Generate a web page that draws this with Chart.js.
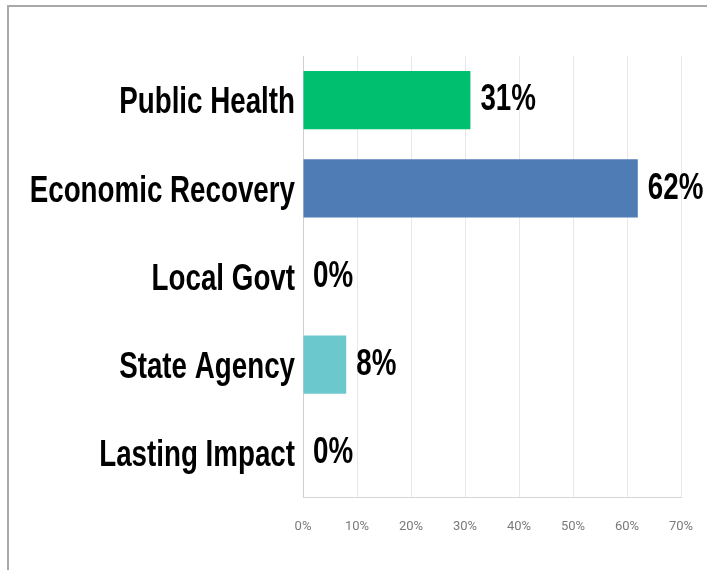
<!DOCTYPE html>
<html>
<head>
<meta charset="utf-8">
<script src="https://cdn.jsdelivr.net/npm/chart.js@4/dist/chart.umd.min.js"></script>
<style>
    html, body { margin: 0; padding: 0; background: #fff; overflow: hidden; width: 707px; height: 570px; }
    #wrap { position: absolute; left: 0; top: 0; width: 707px; height: 570px; }
    #frame {
        position: absolute; left: 7px; top: 5px; width: 698px; height: 563px;
        border-left: 2px solid #a9a9a9; border-top: 2px solid #a9a9a9;
        pointer-events: none;
    }
</style>
</head>
<body>
<div id="wrap"><canvas id="chart"></canvas></div>
<div id="frame"></div>
<script>
var categories = ['Public Health', 'Economic Recovery', 'Local Govt', 'State Agency', 'Lasting Impact'];
var shares = [31, 62, 0, 8, 0];
var barColors = ['#00bf6f', '#507cb6', '#507cb6', '#6bc8cd', '#6bc8cd'];
var xTicks = [0, 10, 20, 30, 40, 50, 60, 70];

// bold condensed look: Liberation Sans Bold squeezed sideways
var bigFont = "bold 37px 'Liberation Sans', Arial, sans-serif";
var squeeze = 0.75;

function drawSqueezed(ctx, text, x, y, align) {
    ctx.save();
    ctx.translate(x, y);
    ctx.scale(squeeze, 1);
    ctx.textAlign = align;
    ctx.fillText(text, 0, 0);
    ctx.restore();
}

var bigLabels = {
    id: 'bigLabels',
    afterDatasetsDraw: function (chart) {
        var ctx = chart.ctx;
        var meta = chart.getDatasetMeta(0);
        var yScale = chart.scales.y;
        ctx.save();
        ctx.font = bigFont;
        ctx.fillStyle = '#000';
        ctx.textBaseline = 'middle';
        categories.forEach(function (name, i) {
            drawSqueezed(ctx, name, yScale.right - 8, yScale.getPixelForTick(i) + 3, 'right');
        });
        meta.data.forEach(function (bar, i) {
            drawSqueezed(ctx, shares[i] + '%', bar.x + 10, bar.y, 'left');
        });
        ctx.restore();
    }
};

new Chart(document.getElementById('chart').getContext('2d'), {
    type: 'bar',
    data: {
        labels: categories,
        datasets: [{
            data: shares,
            backgroundColor: barColors,
            categoryPercentage: 1,
            barPercentage: 0.66
        }]
    },
    options: {
        indexAxis: 'y',
        responsive: true,
        maintainAspectRatio: false,
        animation: false,
        layout: { padding: { top: 56, right: 26, left: 0, bottom: 0 } },
        plugins: {
            legend: { display: false },
            tooltip: { enabled: false }
        },
        scales: {
            x: {
                min: 0,
                max: 70,
                afterBuildTicks: function (scale) {
                    scale.ticks = xTicks.map(function (v) { return { value: v }; });
                },
                afterFit: function (scale) {
                    scale.height = 73;
                    scale.paddingRight = 0;
                },
                grid: {
                    color: function (c) { return c.tick && c.tick.value === 0 ? '#cfcfcf' : '#e8e8e8'; },
                    drawTicks: false
                },
                border: { color: '#d6d6d6' },
                ticks: {
                    padding: 22,
                    color: '#7a7a7a',
                    font: { family: 'Roboto, sans-serif', size: 13 },
                    callback: function (v) { return v + '%'; }
                }
            },
            y: {
                afterFit: function (scale) { scale.width = 303; },
                grid: { display: false },
                border: { color: '#cfcfcf' },
                ticks: { display: false }
            }
        }
    },
    plugins: [bigLabels]
});
</script>
</body>
</html>
